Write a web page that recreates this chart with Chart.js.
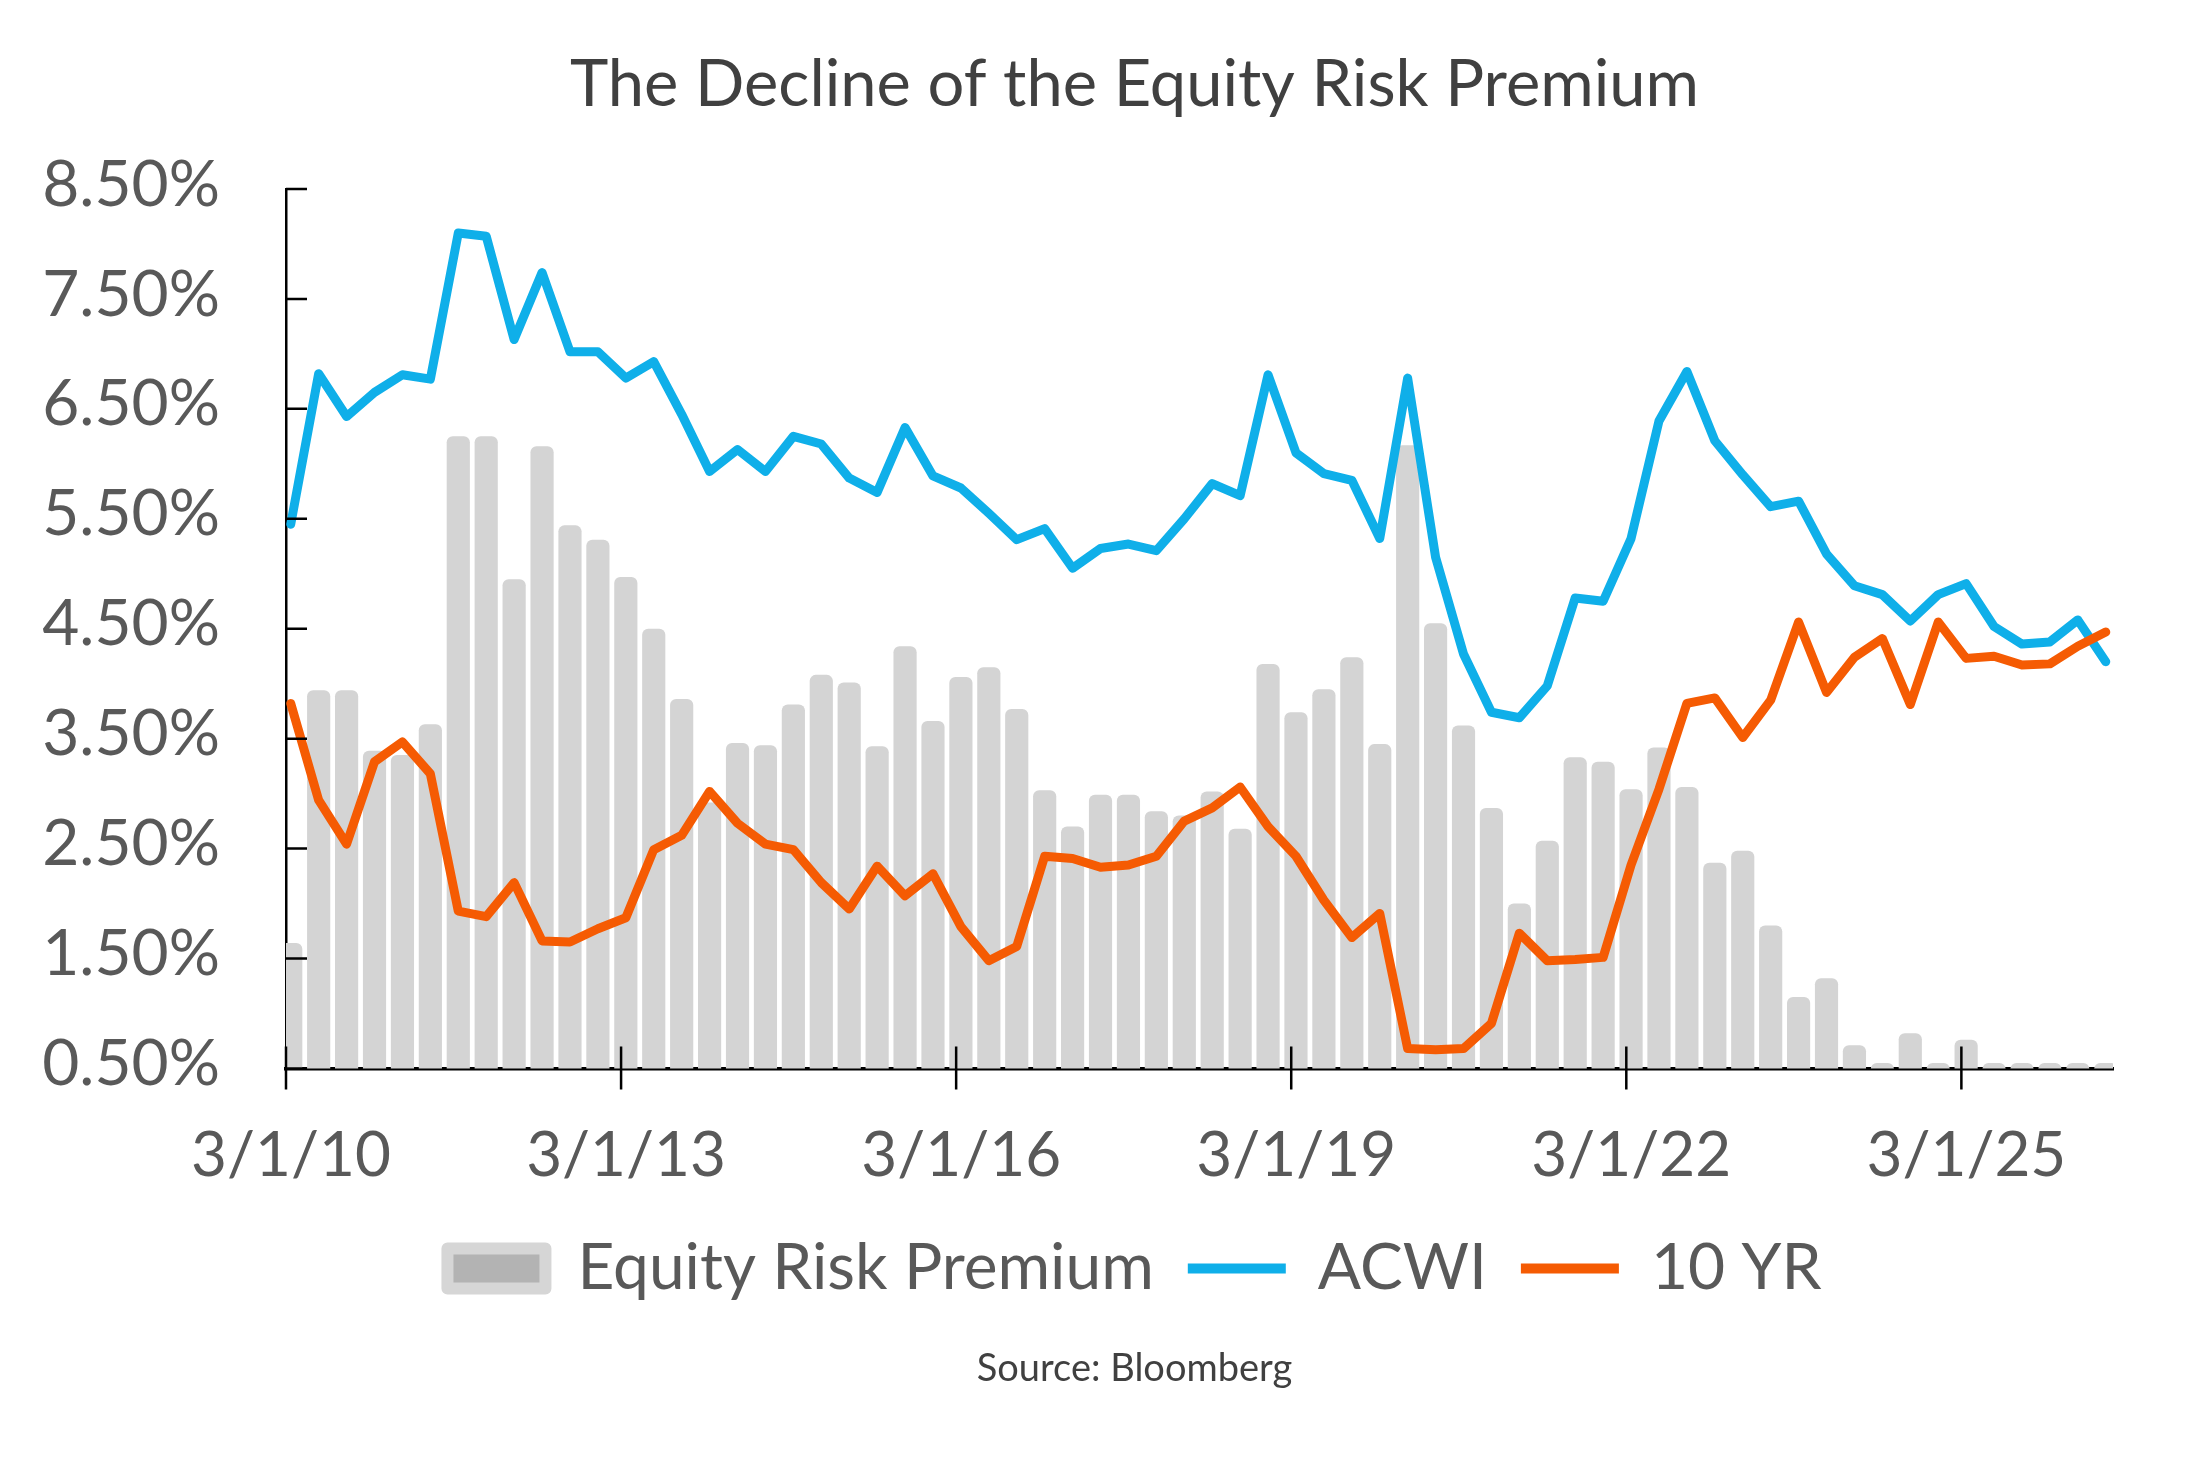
<!DOCTYPE html>
<html lang="en">
<head>
  <meta charset="UTF-8">
  <title>The Decline of the Equity Risk Premium</title>
  <script src="https://cdn.jsdelivr.net/npm/chart.js"></script>
  <style>
    html, body {
      margin: 0;
      padding: 0;
      background: #fff;
    }
    canvas {
      display: block;
    }
  </style>
</head>
<body>
  <canvas id="erpChart" width="2186" height="1480"></canvas>

  <script>
    // quarterly observations, Q1 2010 .. Q2 2026
    const quarters = [
      'Q1 2010', 'Q2 2010', 'Q3 2010', 'Q4 2010',
      'Q1 2011', 'Q2 2011', 'Q3 2011', 'Q4 2011',
      'Q1 2012', 'Q2 2012', 'Q3 2012', 'Q4 2012',
      'Q1 2013', 'Q2 2013', 'Q3 2013', 'Q4 2013',
      'Q1 2014', 'Q2 2014', 'Q3 2014', 'Q4 2014',
      'Q1 2015', 'Q2 2015', 'Q3 2015', 'Q4 2015',
      'Q1 2016', 'Q2 2016', 'Q3 2016', 'Q4 2016',
      'Q1 2017', 'Q2 2017', 'Q3 2017', 'Q4 2017',
      'Q1 2018', 'Q2 2018', 'Q3 2018', 'Q4 2018',
      'Q1 2019', 'Q2 2019', 'Q3 2019', 'Q4 2019',
      'Q1 2020', 'Q2 2020', 'Q3 2020', 'Q4 2020',
      'Q1 2021', 'Q2 2021', 'Q3 2021', 'Q4 2021',
      'Q1 2022', 'Q2 2022', 'Q3 2022', 'Q4 2022',
      'Q1 2023', 'Q2 2023', 'Q3 2023', 'Q4 2023',
      'Q1 2024', 'Q2 2024', 'Q3 2024', 'Q4 2024',
      'Q1 2025', 'Q2 2025', 'Q3 2025', 'Q4 2025',
      'Q1 2026', 'Q2 2026'
    ];

    const erp = [
      1.64, 3.94, 3.94, 3.39, 3.35, 3.63, 6.25, 6.25, 4.95, 6.16, 5.44, 5.31,
      4.97, 4.50, 3.86, 2.92, 3.46, 3.44, 3.81, 4.08, 4.01, 3.43, 4.34, 3.66,
      4.06, 4.15, 3.77, 3.03, 2.70, 2.99, 2.99, 2.84, 2.80, 3.02, 2.68, 4.18,
      3.74, 3.95, 4.24, 3.45, 6.17, 4.55, 3.62, 2.87, 2.00, 2.57, 3.33, 3.29,
      3.04, 3.42, 3.06, 2.37, 2.48, 1.80, 1.15, 1.32, 0.71, 0.55, 0.82, 0.55,
      0.76, 0.55, 0.55, 0.55, 0.55, 0.55
    ];

    const acwi = [
      5.45, 6.82, 6.43, 6.65, 6.81, 6.77, 8.10, 8.07, 7.13, 7.74, 7.02, 7.02,
      6.78, 6.93, 6.45, 5.93, 6.13, 5.93, 6.25, 6.18, 5.87, 5.74, 6.33, 5.89,
      5.78, 5.55, 5.31, 5.41, 5.05, 5.23, 5.27, 5.21, 5.50, 5.82, 5.71, 6.81,
      6.10, 5.91, 5.85, 5.32, 6.78, 5.15, 4.27, 3.74, 3.69, 3.98, 4.78, 4.75,
      5.32, 6.39, 6.84, 6.21, 5.90, 5.61, 5.66, 5.18, 4.89, 4.81, 4.57, 4.81,
      4.91, 4.52, 4.36, 4.38, 4.58, 4.20
    ];

    const tenYr = [
      3.82, 2.94, 2.54, 3.29, 3.47, 3.18, 1.93, 1.88, 2.19, 1.66, 1.65, 1.77,
      1.87, 2.49, 2.62, 3.02, 2.73, 2.54, 2.49, 2.19, 1.95, 2.34, 2.07, 2.27,
      1.79, 1.48, 1.61, 2.43, 2.41, 2.33, 2.35, 2.43, 2.75, 2.87, 3.06, 2.70,
      2.43, 2.03, 1.69, 1.91, 0.68, 0.67, 0.68, 0.91, 1.73, 1.48, 1.49, 1.51,
      2.35, 3.04, 3.82, 3.87, 3.51, 3.85, 4.56, 3.92, 4.24, 4.41, 3.81, 4.56,
      4.23, 4.25, 4.17, 4.18, 4.34, 4.47
    ];

    const dateLabels = ['3/1/10', '3/1/13', '3/1/16', '3/1/19', '3/1/22', '3/1/25'];
    const yTickValues = [0.5, 1.5, 2.5, 3.5, 4.5, 5.5, 6.5, 7.5, 8.5];

    const QUARTERS_PER_LABEL = 12;
    const POINT_SHIFT = 0.17;   // quarter-end points sit a little right of the 3/1 ticks
    const X_MAX = 65.43;
    const BLOCK_SHIFT = 78;     // title / legend / source are centred right of the canvas centre

    const toPoints = vals => vals.map((v, i) => ({ x: i + POINT_SHIFT, y: v }));

    Chart.defaults.font.family = 'Lato, "Open Sans", sans-serif';

    // short tick marks: inside on the value axis, crossing on the date axis
    const axisTicks = {
      id: 'axisTicks',
      afterDatasetsDraw(chart) {
        const { ctx, chartArea, scales: { x, y } } = chart;
        ctx.save();
        ctx.strokeStyle = '#000';
        ctx.lineWidth = 2.5;
        ctx.beginPath();
        y.ticks.forEach(t => {
          const py = y.getPixelForValue(t.value);
          ctx.moveTo(chartArea.left, py);
          ctx.lineTo(chartArea.left + 21, py);
        });
        x.ticks.forEach(t => {
          const px = x.getPixelForValue(t.value);
          ctx.moveTo(px, chartArea.bottom - 22);
          ctx.lineTo(px, chartArea.bottom + 21);
        });
        ctx.stroke();
        ctx.restore();
      }
    };

    // nudge the full-width blocks (title, legend, source) to the right
    const shiftBlocks = {
      id: 'shiftBlocks',
      afterLayout(chart) {
        chart.boxes.forEach(b => {
          if (b.fullSize && (b.position === 'top' || b.position === 'bottom')) {
            b.left += BLOCK_SHIFT;
            b.right += BLOCK_SHIFT;
          }
        });
      }
    };

    new Chart(document.getElementById('erpChart'), {
      type: 'bar',
      data: {
        labels: quarters,
        datasets: [
          {
            type: 'bar',
            label: 'Equity Risk Premium',
            data: toPoints(erp),
            backgroundColor: '#d4d4d4',
            borderWidth: 0,
            borderRadius: { topLeft: 6, topRight: 6, bottomLeft: 0, bottomRight: 0 },
            barPercentage: 0.83,
            categoryPercentage: 1,
            pointStyle: 'rect',
            order: 3
          },
          {
            type: 'line',
            label: 'ACWI',
            data: toPoints(acwi),
            borderColor: '#0fafe9',
            backgroundColor: '#0fafe9',
            borderWidth: 9,
            borderJoinStyle: 'round',
            borderCapStyle: 'round',
            pointRadius: 0,
            pointHoverRadius: 0,
            pointStyle: 'line',
            tension: 0,
            order: 2
          },
          {
            type: 'line',
            label: '10 YR',
            data: toPoints(tenYr),
            borderColor: '#f55b03',
            backgroundColor: '#f55b03',
            borderWidth: 9,
            borderJoinStyle: 'round',
            borderCapStyle: 'round',
            pointRadius: 0,
            pointHoverRadius: 0,
            pointStyle: 'line',
            tension: 0,
            order: 1
          }
        ]
      },
      options: {
        responsive: false,
        animation: false,
        devicePixelRatio: 1,
        layout: {
          padding: { left: 0, right: 73, top: 0, bottom: 88 }
        },
        scales: {
          x: {
            type: 'linear',
            offset: false,
            min: 0,
            max: X_MAX,
            afterBuildTicks: s => {
              s.ticks = dateLabels.map((_, i) => ({ value: i * QUARTERS_PER_LABEL }));
            },
            afterFit: s => { s.height = 134; },
            grid: { display: false, drawTicks: false, offset: false },
            border: { display: true, color: '#000', width: 3.5 },
            ticks: {
              autoSkip: false,
              maxRotation: 0,
              minRotation: 0,
              padding: 50,
              labelOffset: 5,
              color: '#595959',
              font: { size: 62 },
              callback: v => dateLabels[Math.round(v / QUARTERS_PER_LABEL)]
            }
          },
          y: {
            min: 0.5,
            max: 8.5,
            afterBuildTicks: s => {
              s.ticks = yTickValues.map(v => ({ value: v }));
            },
            afterFit: s => { s.width = 286; },
            grid: { display: false, drawTicks: false },
            border: { display: true, color: '#000', width: 2.5 },
            ticks: {
              padding: 66,
              labelOffset: -4,
              color: '#595959',
              font: { size: 64 },
              callback: v => v.toFixed(2) + '%'
            }
          }
        },
        plugins: {
          title: {
            display: true,
            text: 'The Decline of the Equity Risk Premium',
            color: '#404040',
            font: { size: 65, weight: 'normal' },
            padding: { top: 46, bottom: 65 }
          },
          subtitle: {
            display: true,
            position: 'bottom',
            text: 'Source: Bloomberg',
            color: '#404040',
            font: { size: 38, weight: 'normal' },
            padding: { top: 36, bottom: 0 }
          },
          legend: {
            position: 'bottom',
            labels: {
              usePointStyle: true,
              pointStyleWidth: 98,
              boxHeight: 40,
              padding: 34,
              color: '#595959',
              font: { size: 64 },
              sort: (a, b) => a.datasetIndex - b.datasetIndex,
              generateLabels: chart => {
                const items = Chart.defaults.plugins.legend.labels.generateLabels(chart);
                items.forEach(it => {
                  if (it.datasetIndex === 0) {
                    it.fillStyle = '#b3b3b3';
                    it.strokeStyle = '#d6d6d6';
                    it.lineWidth = 12;
                    it.lineJoin = 'round';
                  } else {
                    it.lineWidth = 10;
                  }
                });
                return items;
              }
            }
          },
          tooltip: { enabled: false }
        }
      },
      plugins: [axisTicks, shiftBlocks]
    });
  </script>
</body>
</html>
